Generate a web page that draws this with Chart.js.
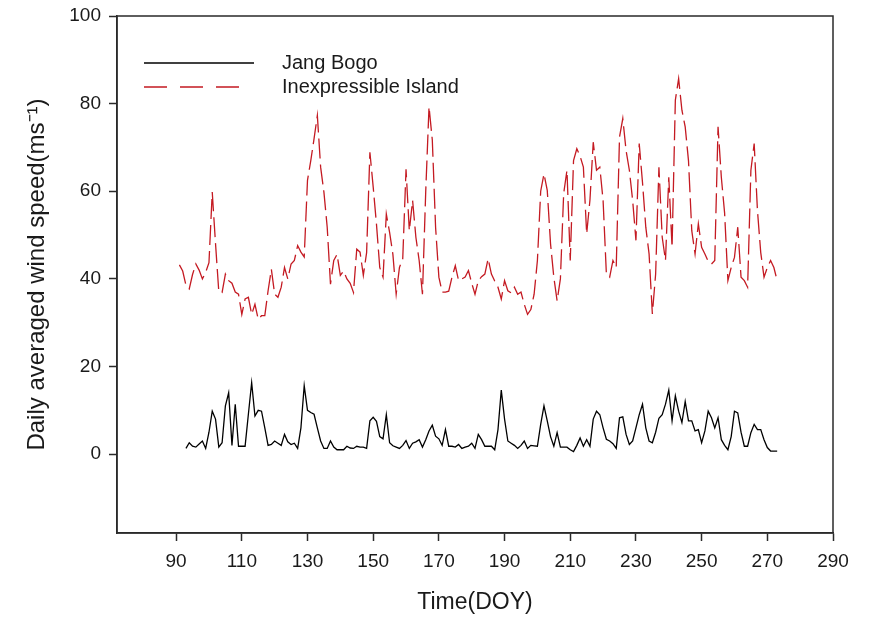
<!DOCTYPE html>
<html>
<head>
<meta charset="utf-8">
<script src="https://cdn.jsdelivr.net/npm/chart.js@4.4.1/dist/chart.umd.min.js"></script>
<style>
    html, body { margin: 0; padding: 0; background: #ffffff; }
    #chartContainer { width: 871px; height: 620px; }
</style>
</head>
<body>
<div id="chartContainer"><canvas id="myChart" width="871" height="620"></canvas></div>
<script>
'use strict';

// Jang Bogo, daily averaged wind speed, starting at DOY 93
var jangBogoStart = 93;
var jangBogo = [
    1.3, 2.6, 1.8, 1.6, 2.3, 3.0, 1.3, 5.0, 9.8, 8.0,
    1.6, 2.6, 11.0, 14.0, 2.0, 11.4, 1.8, 1.8, 1.8, 9.1,
    16.3, 8.7, 10.0, 9.8, 6.0, 2.0, 2.2, 3.0, 2.5, 2.0,
    4.5, 2.8, 2.2, 2.5, 1.3, 6.0, 15.6, 10.0, 9.5, 9.1,
    6.0, 3.0, 1.3, 1.3, 3.0, 1.6, 1.0, 1.0, 1.0, 1.8,
    1.4, 1.3, 1.8, 1.6, 1.6, 1.3, 7.6, 8.4, 7.5, 4.0,
    3.5, 9.0, 2.6, 1.9, 1.6, 1.3, 2.0, 3.1, 1.3, 2.5,
    2.8, 3.3, 1.6, 3.3, 5.3, 6.6, 4.1, 3.5, 2.0, 5.6,
    1.8, 1.8, 1.6, 2.2, 1.3, 1.6, 1.8, 2.5, 1.3, 4.5,
    3.3, 1.8, 1.8, 1.8, 1.0, 5.6, 14.6, 8.0, 3.0, 2.5,
    2.0, 1.3, 2.0, 3.0, 1.3, 2.0, 1.9, 1.8, 6.8, 11.0,
    7.6, 4.0, 1.8, 4.9, 1.6, 1.6, 1.6, 1.0, 0.6, 2.0,
    3.7, 1.8, 3.3, 1.8, 8.0, 9.8, 9.0, 6.0, 3.4, 3.0,
    2.4, 1.3, 8.3, 8.5, 4.5, 2.2, 3.0, 6.0, 9.0, 11.4,
    6.0, 3.0, 2.6, 5.0, 8.2, 9.0, 11.4, 14.6, 7.6, 13.3,
    9.8, 7.2, 12.0, 7.6, 7.6, 5.3, 5.6, 2.6, 5.3, 9.8,
    8.3, 6.0, 8.3, 3.3, 2.0, 1.0, 4.0, 9.8, 9.4, 5.0,
    1.8, 1.8, 4.9, 6.8, 5.6, 5.6, 3.3, 1.5, 0.7, 0.7, 0.7
];

// Inexpressible Island, starting at DOY 91
var islandStart = 91;
var inexpressibleIsland = [
    43.2, 41.8, 38.5, 37.7, 41.0, 43.4, 42.0, 40.0, 41.5, 43.7,
    59.8, 48.0, 37.0, 36.9, 41.1, 39.6, 39.0, 37.0, 36.5, 31.9,
    35.4, 35.8, 31.9, 34.2, 30.8, 31.6, 31.6, 37.3, 42.2, 36.5,
    35.8, 38.1, 42.6, 40.0, 43.4, 44.2, 47.6, 46.1, 45.0, 62.5,
    67.0, 72.0, 77.3, 65.5, 59.8, 51.8, 38.8, 44.2, 45.6, 40.8,
    41.8, 40.0, 39.0, 36.9, 46.8, 46.1, 40.8, 46.0, 68.9, 61.0,
    52.5, 42.6, 40.4, 54.8, 50.6, 45.6, 36.5, 42.6, 44.6, 65.0,
    51.0, 57.9, 49.5, 44.2, 36.5, 60.0, 79.3, 71.7, 51.8, 40.4,
    37.0, 37.0, 37.2, 40.4, 43.0, 39.6, 40.0, 40.4, 41.9, 39.0,
    36.5, 39.6, 40.5, 41.1, 44.6, 41.1, 39.5, 38.1, 35.4, 39.6,
    37.3, 36.8, 38.1, 36.5, 37.0, 34.2, 31.9, 33.0, 36.5, 44.2,
    60.0, 64.0, 60.2, 48.0, 40.4, 35.0, 40.0, 59.5, 64.8, 44.2,
    67.0, 69.7, 68.0, 65.5, 50.3, 58.0, 71.2, 64.8, 65.5, 57.9,
    41.1, 40.4, 44.2, 42.6, 72.4, 76.6, 69.3, 64.8, 57.9, 48.8,
    70.9, 62.0, 51.8, 45.7, 32.0, 41.1, 65.5, 49.5, 44.2, 63.2,
    47.2, 80.8, 85.7, 78.5, 74.7, 67.0, 51.0, 45.7, 52.6, 47.2,
    45.7, 44.0, 43.4, 44.2, 74.7, 63.2, 55.0, 39.6, 42.6, 44.9,
    51.8, 40.4, 39.6, 38.1, 64.8, 70.9, 55.6, 46.0, 40.4, 42.6,
    44.2, 42.6, 39.6
];

var xTicks = [90, 110, 130, 150, 170, 190, 210, 230, 250, 270, 290];
var yTicks = [0, 20, 40, 60, 80, 100];

var fontFamily = "'Liberation Sans', Arial, sans-serif";
var textColor = '#1a1a1a';
var axisColor = '#2a2a2a';
var redColor = '#c41a22';

function ToPoints(start, values) {
    var points = [];
    for (var i = 0; i < values.length; i++) {
        points.push({ x: start + i, y: values[i] });
    }
    return points;
}

var legendItems = [
    { label: 'Jang Bogo', color: '#000000', dash: [], length: 110 },
    { label: 'Inexpressible Island', color: redColor, dash: [23, 13], length: 95 }
];

// Frame around the plot and the legend inside it
var framePlugin = {
    id: 'frameAndLegend',
    afterDraw: function (chart) {
        var ctx = chart.ctx;
        var area = chart.chartArea;
        ctx.save();
        ctx.strokeStyle = axisColor;
        ctx.lineWidth = 1.5;
        ctx.strokeRect(area.left, area.top, area.right - area.left, area.bottom - area.top);

        ctx.font = '20px ' + fontFamily;
        ctx.textBaseline = 'middle';
        ctx.fillStyle = textColor;
        for (var i = 0; i < legendItems.length; i++) {
            var y = area.top + 47 + i * 24;
            ctx.beginPath();
            ctx.setLineDash(legendItems[i].dash);
            ctx.strokeStyle = legendItems[i].color;
            ctx.lineWidth = 1.3;
            ctx.moveTo(area.left + 27, y);
            ctx.lineTo(area.left + 27 + legendItems[i].length, y);
            ctx.stroke();
            ctx.setLineDash([]);
            ctx.fillText(legendItems[i].label, area.left + 165, y);
        }
        ctx.restore();
    }
};

var chart = new Chart(document.getElementById('myChart'), {
    type: 'line',
    data: {
        datasets: [
            {
                label: 'Jang Bogo',
                data: ToPoints(jangBogoStart, jangBogo),
                borderColor: '#000000',
                borderWidth: 1.3,
                pointRadius: 0,
                tension: 0,
                fill: false
            },
            {
                label: 'Inexpressible Island',
                data: ToPoints(islandStart, inexpressibleIsland),
                borderColor: redColor,
                borderWidth: 1.3,
                borderDash: [20, 6],
                pointRadius: 0,
                tension: 0,
                fill: false
            }
        ]
    },
    options: {
        responsive: false,
        animation: false,
        devicePixelRatio: 1,
        layout: {
            padding: { left: 0, top: 16, right: 38, bottom: 0 }
        },
        plugins: {
            legend: { display: false },
            tooltip: { enabled: false }
        },
        scales: {
            x: {
                type: 'linear',
                min: 72,
                max: 290,
                afterBuildTicks: function (scale) {
                    scale.ticks = xTicks.map(function (v) { return { value: v }; });
                },
                afterFit: function (scale) {
                    scale.height = 87;
                },
                grid: {
                    drawOnChartArea: false,
                    drawTicks: true,
                    tickLength: 8,
                    tickWidth: 1.5,
                    color: axisColor
                },
                border: { display: true, color: axisColor, width: 1.5 },
                ticks: {
                    autoSkip: false,
                    maxRotation: 0,
                    padding: 9,
                    color: textColor,
                    font: { family: fontFamily, size: 19 }
                },
                title: {
                    display: true,
                    text: 'Time(DOY)',
                    color: textColor,
                    font: { family: fontFamily, size: 23 },
                    padding: { top: 0, bottom: 4 }
                }
            },
            y: {
                min: -18,
                max: 100,
                afterBuildTicks: function (scale) {
                    scale.ticks = yTicks.map(function (v) { return { value: v }; });
                },
                afterFit: function (scale) {
                    scale.width = 117;
                    scale.paddingTop = 0;
                    scale.paddingBottom = 0;
                },
                grid: {
                    drawOnChartArea: false,
                    drawTicks: true,
                    tickLength: 8,
                    tickWidth: 1.5,
                    color: axisColor
                },
                border: { display: true, color: axisColor, width: 1.5 },
                ticks: {
                    autoSkip: false,
                    padding: 8,
                    color: textColor,
                    font: { family: fontFamily, size: 19 }
                },
                title: {
                    display: true,
                    text: 'Daily averaged wind speed(ms\u207B\u00B9)',
                    color: textColor,
                    font: { family: fontFamily, size: 24 },
                    padding: { top: 23, bottom: 0 }
                }
            }
        }
    },
    plugins: [framePlugin]
});
</script>
</body>
</html>
